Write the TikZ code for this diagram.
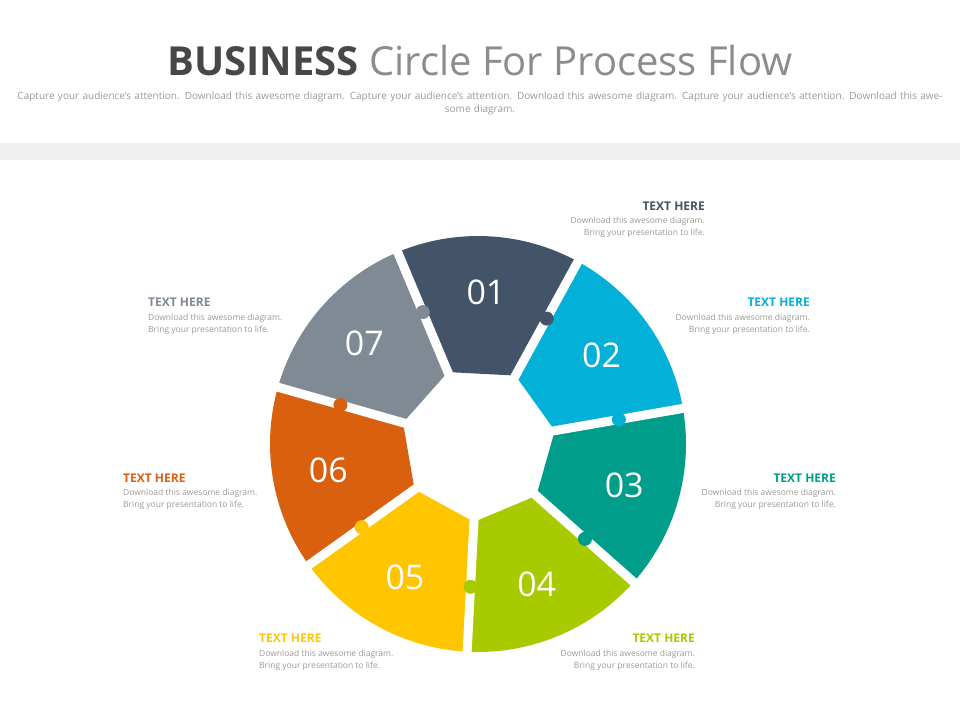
\documentclass[tikz,border=0pt]{standalone}
\usepackage{fontspec}
\setmainfont{Open Sans}
\usetikzlibrary{calc}
\definecolor{cOne}{HTML}{435368}
\definecolor{cTwo}{HTML}{02B0D8}
\definecolor{cThree}{HTML}{009E8A}
\definecolor{cFour}{HTML}{A8CB00}
\definecolor{cFive}{HTML}{FFC600}
\definecolor{cSix}{HTML}{D9600F}
\definecolor{cSeven}{HTML}{808A94}
\definecolor{txtgray}{HTML}{9A9A9A}
\tikzset{
  head/.style={font=\fontsize{12}{14}\selectfont\bfseries, inner sep=0pt},
  desc/.style={font=\fontsize{8.5}{11.5}\selectfont, text=txtgray, inner sep=0pt},
  num/.style={font=\fontsize{34}{36}\selectfont, text=white, inner sep=0pt}
}
\begin{document}
\begin{tikzpicture}[x=1pt,y=-1pt]
    % Canvas
    \useasboundingbox (0,0) rectangle (960,720);
    \fill[white] (0,0) rectangle (960,720);
    \fill[black!6] (0,143) rectangle (960,160);
    % Title
    \node (title) at (480,60) {\fontsize{40}{44}\selectfont\textbf{\color{black!72}BUSINESS} \color{black!45}Circle For Process Flow};
    \node[desc, align=center, text width=940pt, font=\fontsize{10}{13}\selectfont] (sub) at (480,103)
      {Capture your audience’s attention. Download this awesome diagram. Capture your audience’s attention. Download this awesome diagram. Capture your audience’s attention. Download this awesome diagram.};
    % Ring segments
    \coordinate (C) at (478,444);
    \foreach \k/\col/\num in {1/cOne/01,2/cTwo/02,3/cThree/03,4/cFour/04,5/cFive/05,6/cSix/06,7/cSeven/07}{
      \pgfmathsetmacro\a{-(87-(\k-1)*360/7)}
      \fill[\col] ($(C)+(\a-25.71:78)$) -- ($(C)+(\a-25.71:208)$)
        arc[start angle=\a-25.71, end angle=\a+25.71, radius=208]
        -- ($(C)+(\a+25.71:78)$) -- cycle;
      \node[num] (n\num) at ($(C)+(\a:152)$) {\num};
    }
    % Gaps
    \foreach \k in {1,...,7}{
      \pgfmathsetmacro\b{-(87-(\k-1)*360/7)+25.71}
      \draw[white, line width=9pt] (C) -- ($(C)+(\b:215)$);
    }
    % Puzzle tabs
    \foreach \k/\col in {1/cOne,2/cTwo,3/cThree,4/cFour,5/cFive,6/cSix,7/cSeven}{
      \pgfmathsetmacro\b{-(87-(\k-1)*360/7)+25.71}
      \fill[\col] ($(C)+(\b:143)$) circle (7);
    }
    % Labels
    \node[head, text=cOne, anchor=east] (h1) at (705,206) {TEXT HERE};
    \node[desc, anchor=north east, align=right] (d1) at (705,217) {Download this awesome diagram.\\Bring your presentation to life.};
    \node[head, text=cTwo, anchor=east] (h2) at (810,302) {TEXT HERE};
    \node[desc, anchor=north east, align=right] (d2) at (810,314) {Download this awesome diagram.\\Bring your presentation to life.};
    \node[head, text=cThree, anchor=east] (h3) at (836,478) {TEXT HERE};
    \node[desc, anchor=north east, align=right] (d3) at (836,489) {Download this awesome diagram.\\Bring your presentation to life.};
    \node[head, text=cFour, anchor=east] (h4) at (695,638) {TEXT HERE};
    \node[desc, anchor=north east, align=right] (d4) at (695,650) {Download this awesome diagram.\\Bring your presentation to life.};
    \node[head, text=cFive, anchor=west] (h5) at (259,638) {TEXT HERE};
    \node[desc, anchor=north west, align=left] (d5) at (259,650) {Download this awesome diagram.\\Bring your presentation to life.};
    \node[head, text=cSix, anchor=west] (h6) at (123,478) {TEXT HERE};
    \node[desc, anchor=north west, align=left] (d6) at (123,489) {Download this awesome diagram.\\Bring your presentation to life.};
    \node[head, text=cSeven, anchor=west] (h7) at (148,302) {TEXT HERE};
    \node[desc, anchor=north west, align=left] (d7) at (148,314) {Download this awesome diagram.\\Bring your presentation to life.};
\end{tikzpicture}
\end{document}
